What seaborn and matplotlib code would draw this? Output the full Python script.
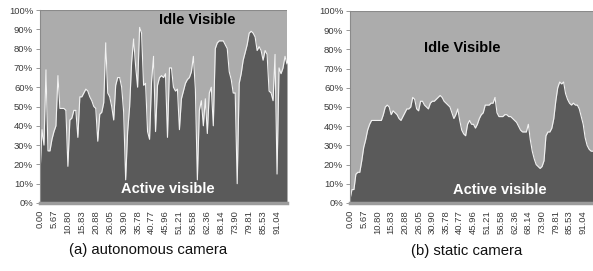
import numpy as np
import pandas as pd
import matplotlib
matplotlib.use("Agg")
import matplotlib.pyplot as plt
import seaborn as sns

tick_labels = ["0.00", "5.67", "10.80", "15.83", "20.88", "26.05", "30.90", "35.78",
               "40.77", "45.96", "51.21", "56.58", "62.36", "68.14", "73.90", "79.81",
               "85.53", "91.04"]

active_autonomous = [15, 38, 30, 69, 27, 27, 33, 37, 40, 66, 49, 49, 49, 48, 19, 43, 44, 48, 48, 34,
                     55, 55, 57, 59, 58, 55, 53, 50, 49, 32, 46, 47, 52, 83, 57, 55, 50, 43, 61, 65,
                     65, 60, 47, 12, 37, 50, 73, 85, 71, 60, 91, 88, 61, 62, 37, 33, 63, 76, 37, 61,
                     65, 66, 65, 67, 34, 70, 70, 60, 58, 59, 38, 54, 58, 62, 64, 65, 68, 76, 59, 12,
                     48, 53, 40, 54, 36, 57, 60, 40, 80, 83, 84, 84, 84, 82, 80, 68, 64, 57, 57, 10,
                     62, 67, 74, 78, 82, 88, 89, 88, 86, 79, 81, 79, 74, 79, 77, 58, 57, 53, 77, 15,
                     70, 67, 70, 76, 72]

active_static = [2, 7, 7, 15, 16, 16, 22, 29, 33, 38, 41, 43, 43, 43, 43, 43, 43, 46, 50, 51,
                 50, 46, 48, 47, 46, 44, 43, 45, 47, 49, 49, 50, 55, 54, 49, 48, 53, 53, 51, 50,
                 49, 52, 53, 53, 54, 55, 56, 55, 53, 52, 51, 50, 47, 44, 46, 49, 43, 38, 36, 35,
                 41, 43, 41, 41, 39, 41, 44, 46, 47, 51, 51, 51, 52, 52, 55, 47, 45, 45, 45, 46,
                 46, 45, 45, 44, 43, 42, 40, 38, 37, 37, 37, 41, 33, 27, 23, 20, 19, 18, 19, 22,
                 35, 37, 37, 39, 44, 53, 60, 63, 62, 63, 57, 54, 52, 51, 52, 51, 51, 49, 45, 41,
                 34, 30, 28, 27, 27]

captions = ["(a) autonomous camera", "(b) static camera"]
LABEL_STEP = 7

sns.set_theme(style="white")
plt.rcParams["font.family"] = ["Liberation Sans", "DejaVu Sans"]

DARK = "#5a5a5a"
LIGHT = "#acacac"
OVERLAY_FONT = ["Liberation Sans", "DejaVu Sans"]

fig = plt.figure(figsize=(5.93, 2.71), dpi=100)
axes_rects = [[40/593, 1-203/271, 247/593, 193/271],
              [350/593, 1-203/271, 243/593, 192/271]]
idle_pos = [(197/593, 1-20/271), (462/593, 1-48/271)]
active_pos = [(168/593, 1-189/271), (500/593, 1-190/271)]
caption_pos = [(148/593, 1-250/271), (467/593, 1-251/271)]

for k, vals in enumerate([active_autonomous, active_static]):
    ax = fig.add_axes(axes_rects[k])
    df = pd.DataFrame({"idx": np.arange(len(vals)), "active": np.array(vals) / 100.0})
    ax.fill_between(df["idx"], 0, 1, color=LIGHT, lw=0)
    ax.fill_between(df["idx"], 0, df["active"], color=DARK, lw=0)
    sns.lineplot(data=df, x="idx", y="active", ax=ax, color="#f2f2f2", lw=0.8)
    ax.set_xlim(0, len(vals) - 1)
    ax.set_ylim(0, 1)
    ax.set_xlabel("")
    ax.set_ylabel("")
    ax.set_yticks(np.linspace(0, 1, 11))
    ax.set_yticklabels([f"{int(v)}%" for v in np.arange(0, 101, 10)], fontsize=6.8, color="#3a3a3a")
    pos = np.arange(len(tick_labels)) * LABEL_STEP
    ax.set_xticks(pos)
    ax.set_xticklabels(tick_labels, rotation=90, fontsize=6.8, color="#3a3a3a")
    ax.tick_params(axis="y", length=3, width=0.6, color="#888888", pad=2, left=True)
    ax.tick_params(axis="x", length=0, pad=5)
    for s in ["top", "right"]:
        ax.spines[s].set_visible(False)
    ax.spines["left"].set_color("#8a8a8a")
    ax.spines["left"].set_linewidth(0.8)
    ax.spines["bottom"].set_color("#9c9c9c")
    ax.spines["bottom"].set_linewidth(2.5)
    ax.axhline(1, color="#8a8a8a", lw=0.8)

    fig.text(*idle_pos[k], "Idle Visible", ha="center", va="center", fontsize=10.5,
             fontweight="bold", family=OVERLAY_FONT, color="black")
    fig.text(*active_pos[k], "Active visible", ha="center", va="center", fontsize=10.5,
             fontweight="bold", family=OVERLAY_FONT, color="white")
    fig.text(*caption_pos[k], captions[k], ha="center", va="center", fontsize=10.7, color="#111111")

fig.savefig("out.png", dpi=100)
